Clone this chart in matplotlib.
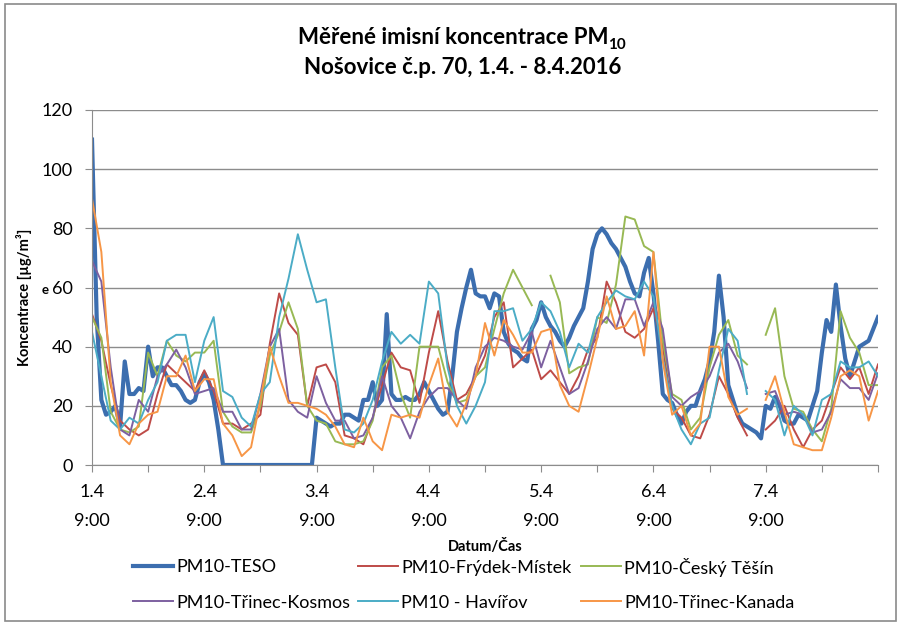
import numpy as np
import matplotlib
matplotlib.use("Agg")
import matplotlib.pyplot as plt
from matplotlib.lines import Line2D
from matplotlib.patches import Rectangle

nan = np.nan

# x axis: hours from 1.4. 9:00
days = ["1.4", "2.4", "3.4", "4.4", "5.4", "6.4", "7.4"]
tick_time = "9:00"

# PM10-TESO, hourly values
teso = [
    110, 50, 22, 17, 18, 20, 13, 35, 24, 24, 26, 25,
    40, 30, 33, 33, 30, 27, 27, 25, 22, 21, 22, 28,
    31, 28, 22, 12, 0, 0, 0, 0, 0, 0, 0, 0,
    0, 0, 0, 0, 0, 0, 0, 0, 0, 0, 0, 0,
    16, 15, 14, 13, 14, 14, 17, 17, 16, 15, 22, 22,
    28, 20, 22, 51, 24, 22, 22, 23, 22, 22, 24, 28,
    25, 22, 19, 17, 18, 30, 45, 53, 60, 66, 58, 57,
    57, 53, 58, 57, 45, 41, 39, 38, 36, 35, 46, 49,
    55, 50, 47, 45, 42, 40, 43, 47, 50, 53, 62, 73,
    78, 80, 78, 75, 73, 70, 67, 62, 58, 57, 65, 70,
    58, 42, 24, 22, 21, 17, 14, 18, 20, 20, 25, 29,
    35, 45, 64, 50, 27, 22, 17, 14, 13, 12, 11, 9,
    20, 19, 23, 20, 15, 14, 14, 17, 16, 15, 20, 25,
    38, 49, 45, 61, 47, 36, 30, 35, 40, 41, 42, 46,
    50,
]

# other stations, read every 2 hours
frydek = [
    51, 42, 27, 15, 12, 10, 12, 24, 34, 31, 28, 25,
    32, 25, 14, 14, 12, 14, 17, 41, 58, 48, 44, 20,
    33, 34, 28, 10, 9, 7, 16, 27, 38, 33, 32, 21,
    38, 52, 35, 22, 24, 30, 37, 50, 55, 33, 36, 39,
    29, 32, 28, 24, 30, 39, 43, 62, 55, 45, 43, 46,
    53, 40, 19, 16, 10, 9, 17, 30, 24, 16, 10, nan,
    12, 15, 20, 12, 6, 12, 15, 24, 33, 29, 33, 24,
    34,
]

cesky_tesin = [
    50, 43, 18, 12, 11, 13, 38, 30, 42, 37, 35, 38,
    38, 42, 18, 13, 11, 11, 20, 37, 45, 55, 46, 20,
    15, 14, 8, 7, 7, 8, 15, 33, 37, 24, 16, 40,
    40, 40, 28, 21, 22, 30, 33, 46, 58, 66, 60, 54,
    nan, 64, 55, 31, 33, 34, 50, 48, 61, 84, 83, 74,
    72, 42, 24, 22, 12, 16, 33, 44, 49, 37, 34, nan,
    44, 53, 30, 19, 18, 12, 8, 19, 52, 43, 38, 27,
    27,
]

kosmos = [
    69, 62, 33, 12, 10, 22, 18, 30, 34, 39, 33, 24,
    25, 26, 18, 18, 12, 12, 24, 40, 46, 22, 18, 16,
    30, 21, 15, 15, 9, 10, 16, 30, 20, 16, 9, 18,
    23, 26, 26, 22, 19, 33, 40, 43, 42, 40, 39, 45,
    33, 42, 33, 24, 26, 35, 46, 50, 46, 56, 56, 47,
    55, 46, 23, 20, 23, 25, 30, 38, 41, 35, 26, nan,
    24, 25, 17, 18, 17, 11, 12, 18, 29, 26, 26, 22,
    31,
]

havirov = [
    45, 30, 15, 12, 16, 14, 22, 28, 42, 44, 44, 28,
    42, 50, 25, 23, 16, 13, 24, 28, 50, 63, 78, 66,
    55, 56, 33, 12, 11, 14, 22, 35, 45, 41, 44, 41,
    62, 58, 33, 20, 14, 20, 28, 52, 52, 53, 42, 46,
    55, 52, 45, 33, 41, 38, 50, 55, 59, 57, 56, 62,
    57, 36, 20, 12, 7, 14, 16, 32, 46, 42, 24, nan,
    25, 22, 10, 20, 17, 10, 22, 24, 35, 33, 33, 35,
    30,
]

kanada = [
    90, 72, 28, 10, 7, 14, 17, 18, 30, 30, 37, 25,
    29, 29, 14, 10, 3, 6, 22, 40, 30, 21, 21, 20,
    19, 17, 13, 7, 6, 16, 8, 5, 17, 16, 17, 16,
    27, 36, 18, 13, 21, 30, 48, 37, 49, 44, 38, 38,
    45, 46, 27, 20, 18, 30, 43, 57, 46, 47, 52, 37,
    72, 35, 17, 20, 10, 14, 40, 40, 23, 17, 19, nan,
    22, 30, 18, 7, 6, 5, 5, 16, 30, 32, 30, 15,
    25,
]

plt.rcParams["font.family"] = ["Lato", "DejaVu Sans"]

W, H = 901, 625
fig = plt.figure(figsize=(W / 100, H / 100), dpi=100)
ax = fig.add_axes([92 / W, 1 - 465 / H, (878 - 92) / W, (465 - 110) / H])

hours_1h = np.arange(len(teso))
hours_2h = np.arange(len(frydek)) * 2

series = [
    ("PM10-TESO", hours_1h, teso, "#3C6EAF", 3.0),
    ("PM10-Frýdek-Místek", hours_2h, frydek, "#BE4B48", 1.4),
    ("PM10-Český Těšín", hours_2h, cesky_tesin, "#98B954", 1.4),
    ("PM10-Třinec-Kosmos", hours_2h, kosmos, "#7D60A0", 1.4),
    ("PM10 - Havířov", hours_2h, havirov, "#4BACC6", 1.4),
    ("PM10-Třinec-Kanada", hours_2h, kanada, "#F79646", 1.4),
]

handles = []
for name, x, y, color, lw in series:
    line, = ax.plot(x, y, color=color, lw=lw, solid_joinstyle="round", label=name)
    handles.append(line)

ax.set_xlim(0, 168)
ax.set_ylim(0, 120)
ax.set_yticks(np.arange(0, 121, 20))

xt = np.arange(0, 169, 12)
xl = []
for t in xt:
    if t % 24 == 0 and t // 24 < len(days):
        xl.append(days[t // 24] + "\n" + tick_time)
    else:
        xl.append("")
ax.set_xticks(xt)
ax.set_xticklabels(xl)
for lbl in ax.get_xticklabels():
    lbl.set_linespacing(1.95)

ax.yaxis.grid(True, color="#8c8c8c", lw=1)
ax.set_axisbelow(True)
for s in ["top", "right"]:
    ax.spines[s].set_visible(False)
for s in ["left", "bottom"]:
    ax.spines[s].set_color("#8c8c8c")
ax.tick_params(axis="both", direction="out", length=5, color="#8c8c8c", labelsize=13)
ax.tick_params(axis="x", pad=9)
ax.tick_params(axis="y", pad=9)

# title with subscript
renderer = fig.canvas.get_renderer()
t1 = fig.text(0, 1 - 38 / H, "Měřené imisní koncentrace PM", fontsize=16,
              fontweight="bold", va="center")
t1s = fig.text(0, 1 - 45 / H, "10", fontsize=11, fontweight="bold", va="center")
w1 = t1.get_window_extent(renderer).width
w2 = t1s.get_window_extent(renderer).width
x0 = 462 - (w1 + w2) / 2
t1.set_x(x0 / W)
t1s.set_x((x0 + w1) / W)
fig.text(463 / W, 1 - 67 / H, "Nošovice č.p. 70, 1.4. - 8.4.2016", fontsize=16,
         fontweight="bold", ha="center", va="center")

fig.text(24 / W, 1 - 297 / H, "Koncentrace [µg/m³]", rotation=90, fontsize=10.5,
         fontweight="bold", ha="center", va="center")
fig.text(45 / W, 1 - 290 / H, "e", fontsize=9.5, fontweight="bold", ha="center", va="center")
fig.text(485 / W, 1 - 546 / H, "Datum/Čas", fontsize=10.5, fontweight="bold",
         ha="center", va="center")

# legend: 2 rows x 3 columns, drawn by hand for exact placement
leg_x = [133, 358, 581]
leg_y = [566, 601]
for i, h in enumerate(handles):
    r, c = divmod(i, 3)
    x, y = leg_x[c], leg_y[r]
    fig.add_artist(Line2D([x / W, (x + 40) / W], [1 - y / H, 1 - y / H],
                          color=h.get_color(), lw=h.get_linewidth()))
    fig.text((x + 43) / W, 1 - y / H, h.get_label(), fontsize=13,
             va="center_baseline")

fig.patches.append(Rectangle((5 / W, 1 - 621 / H), 891 / W, 617 / H,
                             transform=fig.transFigure, fill=False,
                             edgecolor="#8a8a8a", lw=1.2))

fig.savefig("out.png", dpi=100)
plt.close(fig)
